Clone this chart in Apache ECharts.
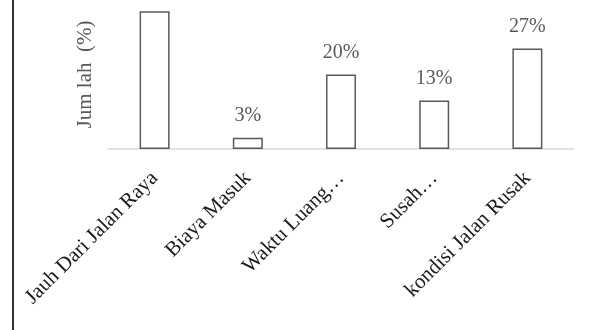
<!DOCTYPE html>
<html><head><meta charset="utf-8">
<script src="https://cdn.jsdelivr.net/npm/echarts@6/dist/echarts.min.js"></script>
<style>html,body{margin:0;padding:0;background:#fff}#c{width:596px;height:330px}</style>
</head><body><div id="c"></div>
<script>
var categories = ["Jauh Dari Jalan Raya", "Biaya Masuk", "Waktu Luang…", "Susah…", "kondisi Jalan Rusak"];
var values = [37, 3, 20, 13, 27];
var yName = "Jum lah  (%)";

var chart = echarts.init(document.getElementById('c'));
chart.setOption({
  animation: false,
  backgroundColor: '#fff',
  grid: { left: 108, right: 22, top: -1, bottom: 181, containLabel: false },
  xAxis: {
    type: 'category', data: categories,
    axisLine: { lineStyle: { color: '#d9d9d9', width: 1.5 } },
    axisTick: { show: false },
    axisLabel: { interval: 0, rotate: 45, margin: 26, color: '#1a1a1a',
      fontFamily: 'Liberation Serif', fontSize: 21 }
  },
  yAxis: {
    type: 'value', min: 0, max: 40,
    name: yName, nameLocation: 'middle', nameGap: 12,
    nameTextStyle: { fontFamily: 'Liberation Serif', fontSize: 21, color: '#595959' },
    axisLine: { show: false }, axisTick: { show: false }, axisLabel: { show: false },
    splitLine: { show: false }
  },
  graphic: [{ type: 'line', shape: { x1: 13, y1: 0, x2: 13, y2: 330 },
    style: { stroke: '#333', lineWidth: 2 } }],
  series: [{
    type: 'bar', data: values, barWidth: 30,
    itemStyle: { color: '#fff', borderColor: '#595959', borderWidth: 1.5 },
    label: { show: true, position: 'top', distance: 12, formatter: '{c}%',
      fontFamily: 'Liberation Serif', fontSize: 20, color: '#595959' }
  }]
});
</script></body></html>
